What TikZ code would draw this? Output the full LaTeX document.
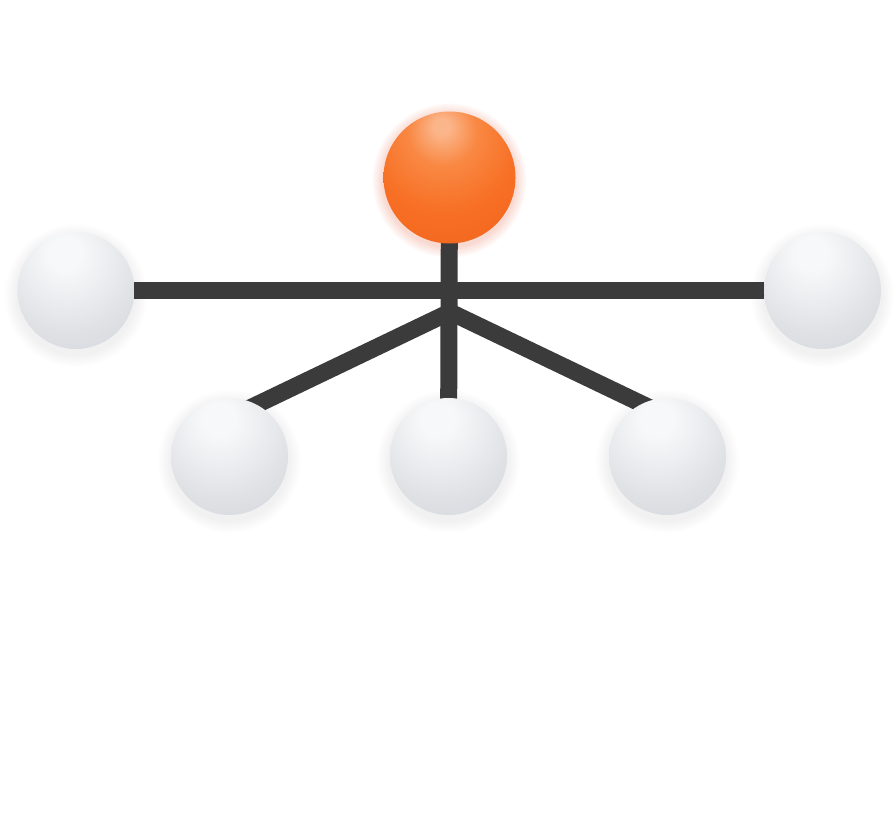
\documentclass[tikz,border=0pt]{standalone}
\usetikzlibrary{backgrounds}
\pgfdeclarelayer{bg}
\pgfdeclarelayer{shad}
\pgfsetlayers{bg,shad,background,main}
\definecolor{lineC}{HTML}{3B3B3B}
\definecolor{gHi}{HTML}{F7F8F9}
\definecolor{gMid}{HTML}{DFE1E5}
\definecolor{gLow}{HTML}{CBCFD5}
\definecolor{gEdge}{HTML}{A9AEB6}
\definecolor{oHi}{HTML}{FBB58A}
\definecolor{oA}{HTML}{F98843}
\definecolor{oMid}{HTML}{F76F24}
\definecolor{oLow}{HTML}{EE5E1B}
\definecolor{oEdge}{HTML}{DC4C15}
\definecolor{sG}{HTML}{6A7080}
\definecolor{sO}{HTML}{F03C10}
\pgfdeclareradialshading{grayball}{\pgfpoint{-5bp}{17bp}}{%
  color(0bp)=(gHi); color(7bp)=(gHi); color(30bp)=(gMid); color(55bp)=(gLow); color(67bp)=(gEdge); color(100bp)=(gEdge)}
\pgfdeclareradialshading{orangeball}{\pgfpoint{-3bp}{20bp}}{%
  color(0bp)=(oHi); color(3bp)=(oHi); color(13bp)=(oA); color(28bp)=(oMid); color(55bp)=(oLow); color(69bp)=(oEdge); color(100bp)=(oEdge)}
\tikzset{
  gball/.style={circle, inner sep=0pt, minimum size=117pt, shading=grayball},
  oball/.style={circle, inner sep=0pt, minimum size=132pt, shading=orangeball},
  gshad/.style={fill=sG, fill opacity=0.010},
  oshad/.style={fill=sO, fill opacity=0.03},
  link/.style={draw=lineC, line width=17pt, line cap=butt}
}
\begin{document}
\begin{tikzpicture}[x=1pt, y=-1pt]
\useasboundingbox (0,0) rectangle (896,824);
\node[oball] (O) at (449.5,177.5) {};
\node[gball] (L) at (76,290.5) {};
\node[gball] (R) at (822.5,290.5) {};
\node[gball] (BL) at (229.5,456.5) {};
\node[gball] (BM) at (448.5,456.5) {};
\node[gball] (BR) at (667.5,456.5) {};
\coordinate (hub) at (450,312);
\coordinate (dl) at (229,418);
\coordinate (dr) at (667,416);
\begin{pgfonlayer}{bg}
\fill[white] (0,0) rectangle (896,824);
\end{pgfonlayer}
\begin{pgfonlayer}{shad}
\foreach \n in {L,R,BL,BM,BR}
  \foreach \k in {1,...,7}
    \path[gshad] ([yshift=-5pt]\n.center) circle[radius=58.5pt+\k*1.8pt];
\foreach \k in {1,...,6}
  \path[oshad] ([yshift=-3pt]O.center) circle[radius=66pt+\k*1.8pt];
\end{pgfonlayer}
\begin{pgfonlayer}{background}
\draw[link] (L.center) -- (R.center);
\draw[link] (O.center) -- (BM.center);
\draw[link] (hub) -- (dl);
\draw[link] (hub) -- (dr);
\end{pgfonlayer}
\end{tikzpicture}
\end{document}
